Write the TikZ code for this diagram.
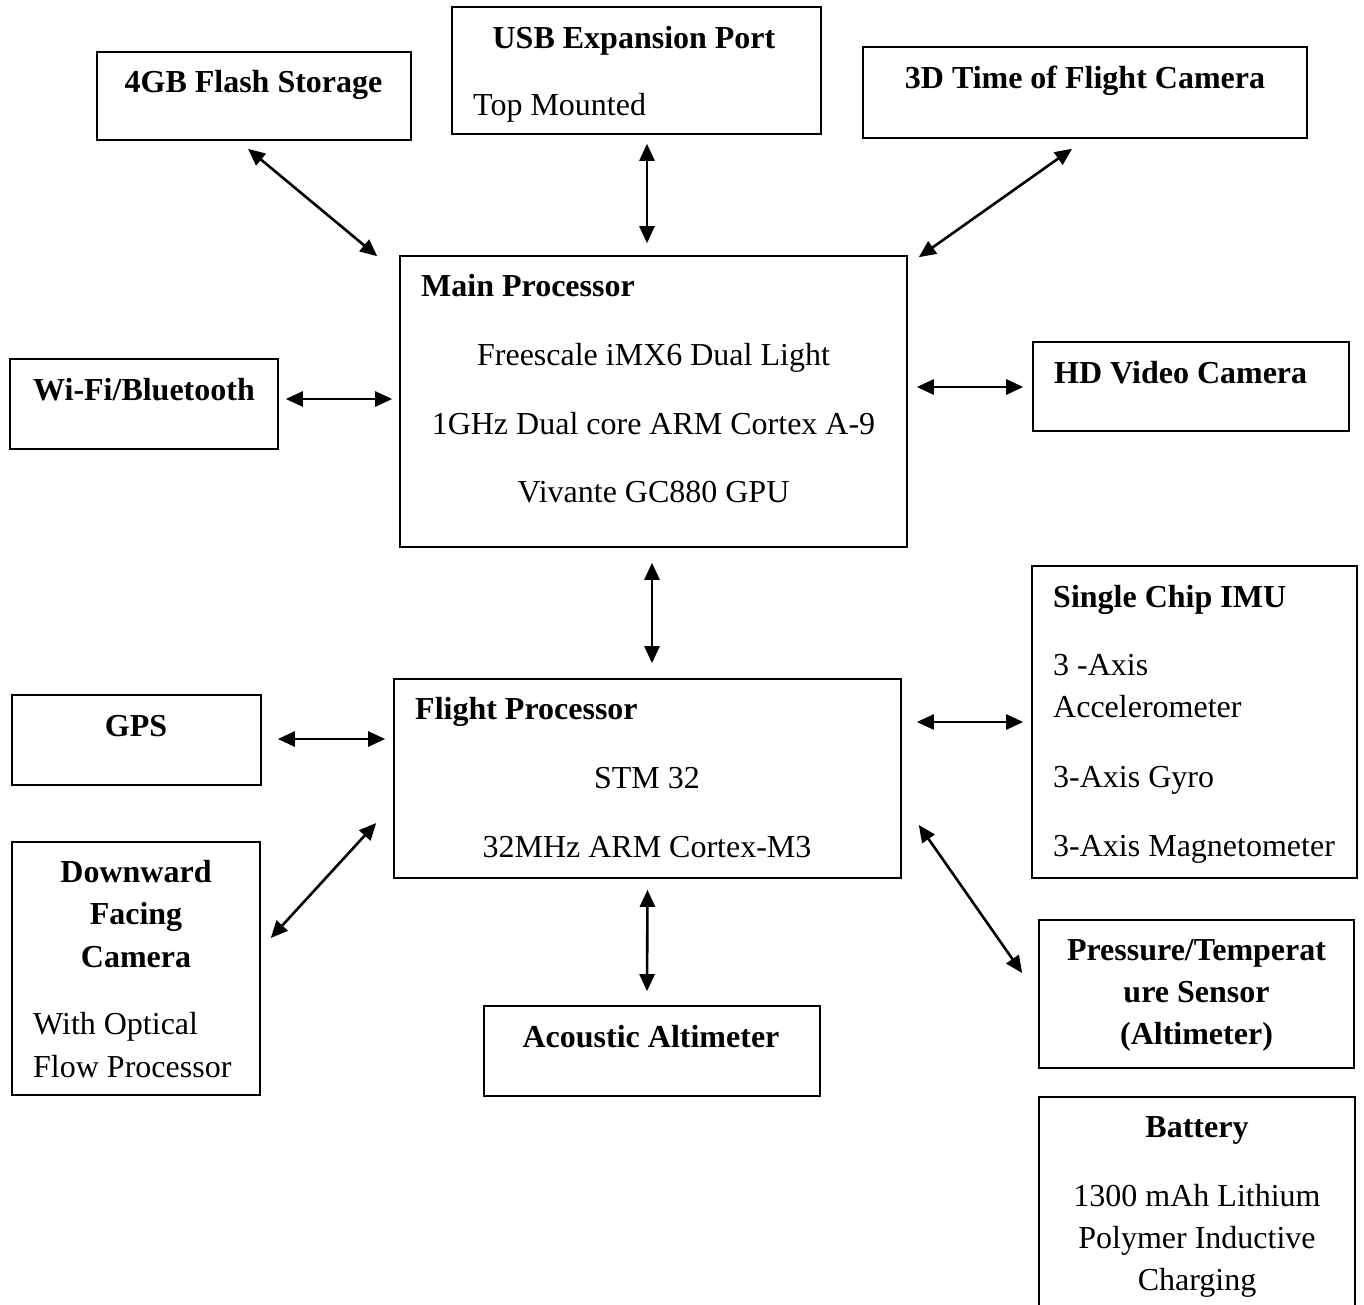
\documentclass[tikz,border=0pt]{standalone}
\usepackage{fontspec}
\setmainfont{Liberation Serif}
\usetikzlibrary{arrows.meta}

\begin{document}
\begin{tikzpicture}[
    x=1pt, y=-1pt,
    block/.style={draw=black, line width=1.6pt, rectangle, inner sep=0pt},
    headtext/.style={font=\fontsize{32}{38}\selectfont\bfseries, inner sep=0pt},
    bodytext/.style={font=\fontsize{32}{38}\selectfont, inner sep=0pt},
    link/.style={{Triangle[length=17pt,width=15pt]}-{Triangle[length=17pt,width=15pt]}, line width=2.6pt}
]
\useasboundingbox[fill=white] (0,0) rectangle (1364,1305);

% Blocks
\node (flash) [block, minimum width=314pt, minimum height=88pt] at (254,96) {};
\node (usb) [block, minimum width=369pt, minimum height=127pt] at (636.5,70.5) {};
\node (tof) [block, minimum width=444pt, minimum height=91pt] at (1085,92.5) {};
\node (main) [block, minimum width=507pt, minimum height=291pt] at (653.5,401.5) {};
\node (wifi) [block, minimum width=268pt, minimum height=90pt] at (144,404) {};
\node (hd) [block, minimum width=316pt, minimum height=89pt] at (1191,386.5) {};
\node (imu) [block, minimum width=325pt, minimum height=312pt] at (1194.5,722) {};
\node (gps) [block, minimum width=249pt, minimum height=90pt] at (136.5,740) {};
\node (flight) [block, minimum width=507pt, minimum height=199pt] at (647.5,778.5) {};
\node (dcam) [block, minimum width=248pt, minimum height=253pt] at (136,968.5) {};
\node (acou) [block, minimum width=336pt, minimum height=90pt] at (652,1051) {};
\node (press) [block, minimum width=315pt, minimum height=148pt] at (1196.5,994) {};
\node (bat) [block, minimum width=316pt, minimum height=223pt] at (1197,1208.5) {};

% Texts
\node (flash_t) [headtext, anchor=base] at (253.5,93) {4GB Flash Storage};
\node (usb_t) [headtext, anchor=base] at (634,49) {USB Expansion Port};
\node (usb_b) [bodytext, anchor=base west] at (473,116) {Top Mounted};
\node (tof_t) [headtext, anchor=base] at (1085,89) {3D Time of Flight Camera};

\node (main_t) [headtext, anchor=base west] at (421,297) {Main Processor};
\node (main_b1) [bodytext, anchor=base] at (653.5,365) {Freescale iMX6 Dual Light};
\node (main_b2) [bodytext, anchor=base] at (653.5,434) {1GHz Dual core ARM Cortex A-9};
\node (main_b3) [bodytext, anchor=base] at (653.5,502) {Vivante GC880 GPU};

\node (wifi_t) [headtext, anchor=base] at (144,400) {Wi-Fi/Bluetooth};
\node (hd_t) [headtext, anchor=base west] at (1054,383) {HD Video Camera};

\node (imu_t) [headtext, anchor=base west] at (1053,607) {Single Chip IMU};
\node (imu_b1) [bodytext, anchor=base west] at (1053,675) {3 -Axis};
\node (imu_b2) [bodytext, anchor=base west] at (1053,717) {Accelerometer};
\node (imu_b3) [bodytext, anchor=base west] at (1053,787) {3-Axis Gyro};
\node (imu_b4) [bodytext, anchor=base west] at (1053,856) {3-Axis Magnetometer};

\node (gps_t) [headtext, anchor=base] at (136,736) {GPS};

\node (flight_t) [headtext, anchor=base west] at (415,719) {Flight Processor};
\node (flight_b1) [bodytext, anchor=base] at (647,788) {STM 32};
\node (flight_b2) [bodytext, anchor=base] at (647,857) {32MHz ARM Cortex-M3};

\node (dcam_t1) [headtext, anchor=base] at (136,882) {Downward};
\node (dcam_t2) [headtext, anchor=base] at (136,924) {Facing};
\node (dcam_t3) [headtext, anchor=base] at (136,967) {Camera};
\node (dcam_b1) [bodytext, anchor=base west] at (33,1034) {With Optical};
\node (dcam_b2) [bodytext, anchor=base west] at (33,1077) {Flow Processor};

\node (acou_t) [headtext, anchor=base] at (651,1047) {Acoustic Altimeter};

\node (press_t1) [headtext, anchor=base] at (1196.5,960) {Pressure/Temperat};
\node (press_t2) [headtext, anchor=base] at (1196.5,1002) {ure Sensor};
\node (press_t3) [headtext, anchor=base] at (1196.5,1044) {(Altimeter)};

\node (bat_t) [headtext, anchor=base] at (1197,1137) {Battery};
\node (bat_b1) [bodytext, anchor=base] at (1197,1206) {1300 mAh Lithium};
\node (bat_b2) [bodytext, anchor=base] at (1197,1248) {Polymer Inductive};
\node (bat_b3) [bodytext, anchor=base] at (1197,1290) {Charging};

% Links
\draw [link] ([xshift=-6pt,yshift=-8pt]flash.south) -- ([xshift=-22pt,yshift=-1pt]main.north west);
\draw [link] ([xshift=10.5pt,yshift=-9pt]usb.south) -- ([xshift=-6.5pt,yshift=12pt]main.north);
\draw [link] ([xshift=11pt,yshift=-2pt]main.north east) -- ([xshift=-13pt,yshift=-10pt]tof.south);
\draw [link] ([xshift=7pt,yshift=5pt]wifi.east) -- ([xshift=-7pt,yshift=2.5pt]main.west);
\draw [link] ([xshift=9pt,yshift=14.5pt]main.east) -- ([xshift=-9pt,yshift=-0.5pt]hd.west);
\draw [link] ([xshift=-1.5pt,yshift=-15pt]main.south) -- ([xshift=4.5pt,yshift=15pt]flight.north);

\draw [link] ([xshift=16pt,yshift=1pt]gps.east) -- ([xshift=-8pt,yshift=39.5pt]flight.west);
\draw [link] ([xshift=15pt,yshift=56.5pt]flight.east) -- ([xshift=-8pt]imu.west);
\draw [link] ([xshift=-17pt,yshift=-44.5pt]flight.west) -- ([xshift=10pt,yshift=30.5pt]dcam.east);
\draw [link] ([yshift=-11pt]flight.south) -- ([xshift=-5pt,yshift=14pt]acou.north);
\draw [link] ([xshift=17pt,yshift=-46.5pt]flight.east) -- ([xshift=-16pt,yshift=21pt]press.west);

\end{tikzpicture}
\end{document}
